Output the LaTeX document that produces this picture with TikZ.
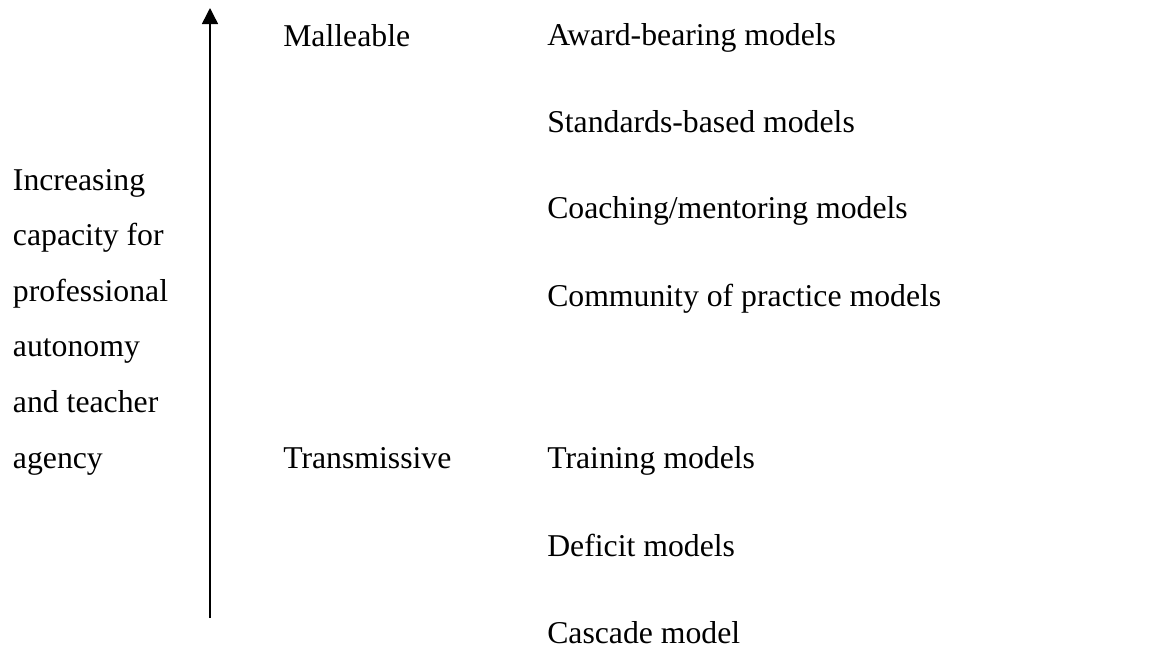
\documentclass[tikz,border=0pt]{standalone}
\usepackage{fontspec}
\setmainfont{Liberation Serif}
\usetikzlibrary{arrows.meta}
\tikzset{
  >={Triangle[length=12pt,width=12pt]},
  font=\fontsize{23.8}{41.7}\selectfont,
  lbl/.style={inner sep=0pt,anchor=base west},
  side/.style={lbl,align=left},
  axis/.style={->,line width=1.1pt},
}
\begin{document}
\begin{tikzpicture}[x=0.75pt,y=-0.75pt]
  \useasboundingbox (0,0) rectangle (1153,668);

  % ---- vertical axis ----
  \coordinate (axbot) at (210,618);
  \coordinate (axtop) at (210,8);
  \draw[axis] (axbot) -- (axtop);

  % ---- axis caption (base = last line) ----
  \node[side] (caption) at (12.7,468)
    {Increasing\\capacity for\\professional\\autonomy\\and teacher\\agency};

  % ---- the two poles ----
  \node[lbl] (malleable) at (283,46) {Malleable};
  \node[lbl] (transmissive) at (283,468) {Transmissive};

  % ---- models, most to least autonomy ----
  \node[lbl] (award) at (547,45) {Award-bearing models};
  \node[lbl] (standards) at (547,132) {Standards-based models};
  \node[lbl] (coaching) at (547,218) {Coaching/mentoring models};
  \node[lbl] (community) at (547,306) {Community of practice models};
  \node[lbl] (training) at (547,468) {Training models};
  \node[lbl] (deficit) at (547,556) {Deficit models};
  \node[lbl] (cascade) at (547,643) {Cascade model};
\end{tikzpicture}
\end{document}
